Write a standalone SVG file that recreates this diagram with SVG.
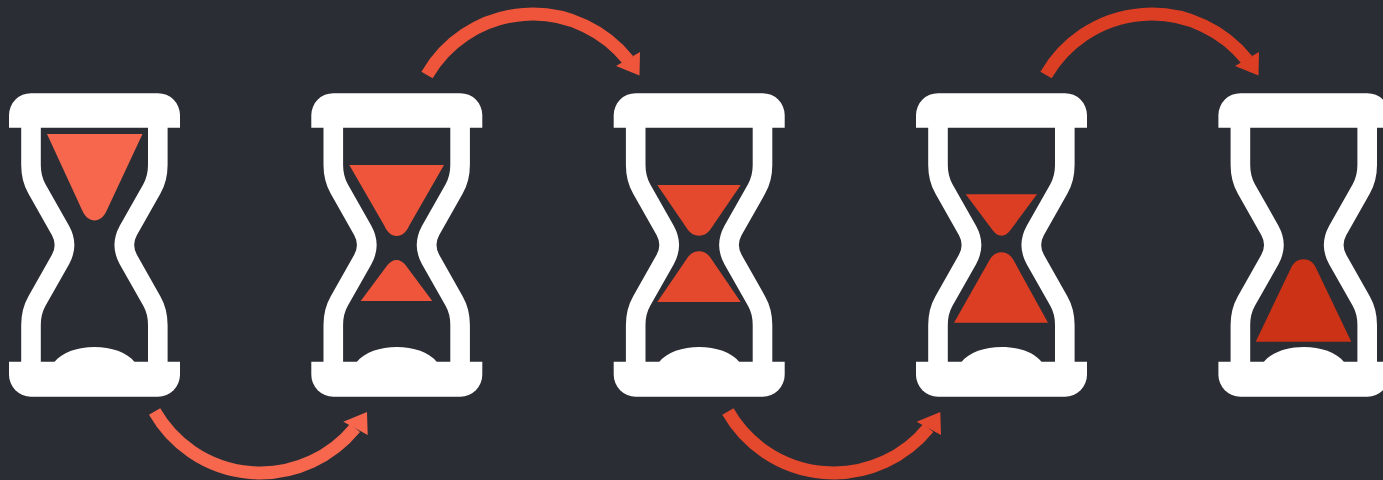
<svg xmlns="http://www.w3.org/2000/svg" width="1383" height="480" viewBox="0 0 1383 480">
<style>
.frame{fill:none;stroke:#fff;stroke-width:19.600}
.cap{fill:#fff}
.arc{fill:none;stroke-width:13}
.c1{fill:#F6674E}.c2{fill:#EE553B}.c3{fill:#E4482D}.c4{fill:#DC3E24}.c5{fill:#CB3216}
.s1{stroke:#F6674E}.s2{stroke:#EE553B}.s3{stroke:#E4482D}.s4{stroke:#DC3E24}
</style>
<defs>
<g id="glass">
<path class="frame" d="M31 125V165C31 176 33 182 37 189L60.500 230.500Q68.500 245 60.500 259.500L37 301C33 308 31 314 31 325V365"/>
<path class="frame" d="M157.800 125V165C157.800 176 155.800 182 151.800 189L128.300 230.500Q120.300 245 128.300 259.500L151.800 301C155.800 308 157.800 314 157.800 325V365"/>
<path class="cap" d="M9 127.700V115A22 22 0 0 1 31 93.200H158A22 22 0 0 1 180 115V127.700Z"/>
<path class="cap" d="M9 361.700V374.700A22 22 0 0 0 31 396.700H158A22 22 0 0 0 180 374.700V361.700Z"/>
<path class="cap" d="M54 362.500C62 352 78 347 94.500 347S127 352 135 362.500Z"/>
</g>
</defs>
<rect width="1383" height="480" fill="#2A2D34"/>
<g id="connectors">
<path class="arc s1" d="M154.600 411.500A122 122 0 0 0 355 428"/>
<path class="c1" d="M367 412L343.300 421.700L367.700 435Z"/>
<path class="arc s2" d="M427 75A122 122 0 0 1 628 60"/>
<path class="c2" d="M639.500 75.500L640 52L616 66Z"/>
<path class="arc s3" d="M727.900 411.500A122 122 0 0 0 928.300 428"/>
<path class="c3" d="M940.300 412L916.600 421.700L941 435Z"/>
<path class="arc s4" d="M1046 75A122 122 0 0 1 1247 60"/>
<path class="c4" d="M1258.500 75.500L1259 52L1235 66Z"/>
</g>
<g id="hourglass-1">
<use href="#glass"/>
<path class="c1" d="M47 134H142.500L106.500 211C103.500 217 99.500 220.500 94.500 220.500S85.500 217 82.500 211Z"/>
</g>
<g id="hourglass-2">
<use href="#glass" x="302.300"/>
<path class="c2" d="M349.300 165H444L409 226C406.500 232 402 236 396.700 236S387 232 384.500 226Z"/>
<path class="c2" d="M360.700 301H432.300L405.500 265C403 262 400 260 396.500 260S390 262 387.500 265Z"/>
</g>
<g id="hourglass-3">
<use href="#glass" x="604.700"/>
<path class="c3" d="M657.300 185H740.700L710 230C707.500 233.500 703.500 235.700 699 235.700S690.500 233.500 688 230Z"/>
<path class="c3" d="M657.300 302H740.700L710 257C707.500 253.500 703.500 251.300 699 251.300S690.500 253.500 688 257Z"/>
</g>
<g id="hourglass-4">
<use href="#glass" x="907"/>
<path class="c4" d="M965.700 194.300H1037L1010.500 230C1008 233.500 1005 235.700 1001.500 235.700S995 233.500 992.500 230Z"/>
<path class="c4" d="M954 322.700H1048L1014 261C1011 255.500 1007 252.300 1001.500 252.300S992 255.500 989 261Z"/>
</g>
<g id="hourglass-5">
<use href="#glass" x="1209.400"/>
<path class="c5" d="M1255.700 341.700H1351.300L1316 268C1313 262 1309 259.300 1303.500 259.300S1294 262 1291 268Z"/>
</g>
</svg>
